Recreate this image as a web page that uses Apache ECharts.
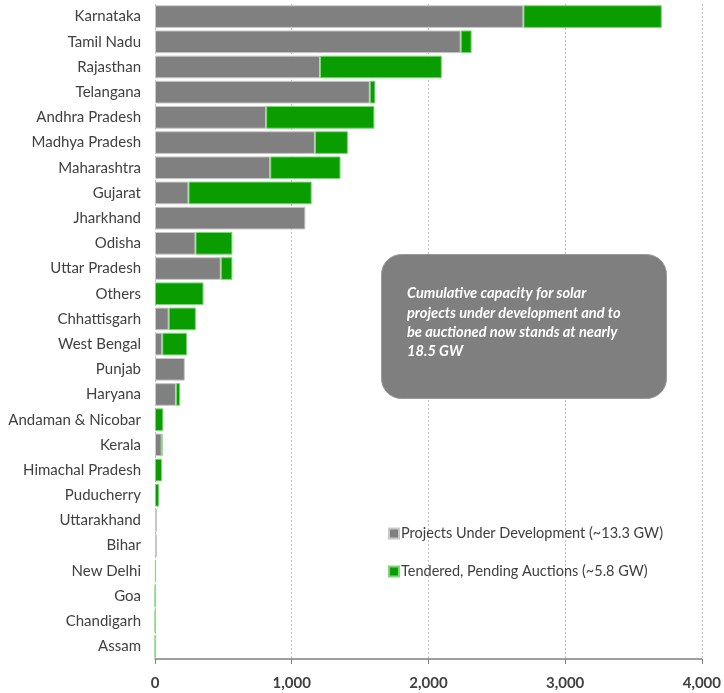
<!DOCTYPE html>
<html><head><meta charset="utf-8">
<script src="https://cdn.jsdelivr.net/npm/echarts@6/dist/echarts.min.js"></script>
<style>html,body{margin:0;padding:0;background:#fff}#c{width:724px;height:693px}</style>
</head><body><div id="c"></div>
<script>
const categories = ["Karnataka","Tamil Nadu","Rajasthan","Telangana","Andhra Pradesh","Madhya Pradesh","Maharashtra","Gujarat","Jharkhand","Odisha","Uttar Pradesh","Others","Chhattisgarh","West Bengal","Punjab","Haryana","Andaman & Nicobar","Kerala","Himachal Pradesh","Puducherry","Uttarakhand","Bihar","New Delhi","Goa","Chandigarh","Assam"];
const underDevelopment = [2695,2236,1207,1571,813,1170,843,245,1100,296,481,'-',100,53,218,153,'-',49,'-','-',15,15,'-','-','-','-'];
const pendingAuctions = [1012,80,891,41,792,241,514,901,'-',270,85,355,199,182,'-',31,61,5,51,31,'-','-',7,1,1,1];
const xTicks = [0,1000,2000,3000,4000];
const legendNames = ["Projects Under Development (~13.3 GW)","Tendered, Pending Auctions (~5.8 GW)"];
const note = ["Cumulative capacity for solar","projects under development and to","be auctioned now stands at nearly","18.5 GW"];

const chart = echarts.init(document.getElementById('c'));
const FONT = 'Lato';
chart.setOption({
  animation:false,
  textStyle:{fontFamily:FONT},
  grid:{left:155,right:20,top:4,bottom:34},
  legend:{
    orient:'vertical', left:383, top:521, itemGap:23, itemWidth:10, itemHeight:10,
    icon:'rect', textStyle:{fontFamily:FONT,fontSize:14.5,color:'#404040',padding:[0,0,0,-3]},
    data:legendNames
  },
  xAxis:{
    type:'value', min:xTicks[0], max:xTicks[xTicks.length-1], interval:xTicks[1]-xTicks[0],
    axisLine:{show:true,lineStyle:{color:'#808080',width:1.5}},
    axisTick:{show:true,length:5,lineStyle:{color:'#808080',width:1}},
    axisLabel:{fontFamily:FONT,fontSize:15,fontWeight:'bold',color:'#404040',margin:17,
      formatter:v=>v.toLocaleString('en-US')},
    splitLine:{show:true,lineStyle:{color:'#bfbfbf',type:[2,2],width:1}}
  },
  yAxis:{
    type:'category', inverse:true, data:categories,
    axisLine:{show:false}, axisTick:{show:false},
    axisLabel:{fontFamily:FONT,fontSize:15,color:'#404040',margin:14}
  },
  series:[
    {name:legendNames[0],type:'bar',stack:'s',data:underDevelopment,barWidth:'90%',
     itemStyle:{color:'#808080',borderColor:'#c8c8c8',borderWidth:1}},
    {name:legendNames[1],type:'bar',stack:'s',data:pendingAuctions,barWidth:'90%',
     itemStyle:{color:'#099d00',borderColor:'#7fd67a',borderWidth:1}}
  ],
  graphic:[
    {type:'rect',left:381,top:254,shape:{width:285,height:144,r:20},
     style:{fill:'#7f7f7f',stroke:'#9a9a9a',lineWidth:1},z:10},
    {type:'text',left:407,top:284,z:11,
     style:{text:note.join('\n'),fill:'#ffffff',font:'italic bold 14.6px '+FONT,lineHeight:19.3}}
  ]
});
</script></body></html>
